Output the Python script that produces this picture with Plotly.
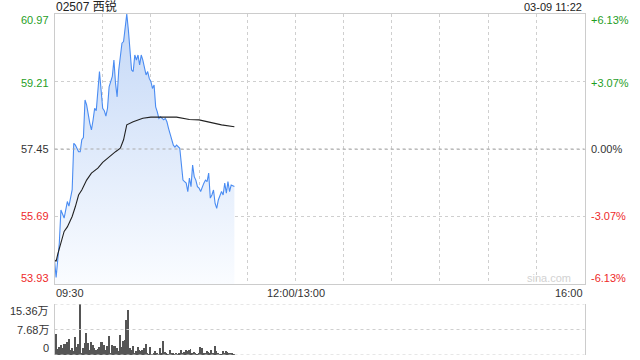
import plotly.graph_objects as go

# ---------------- data ----------------
title_text = "02507 西锐"
stamp_text = "03-09 11:22"
prev_close = 57.45
price_top, price_bottom = 60.97, 53.93
price_labels = ["60.97", "59.21", "57.45", "55.69", "53.93"]
pct_labels = ["+6.13%", "+3.07%", "0.00%", "-3.07%", "-6.13%"]
time_labels = ["09:30", "12:00/13:00", "16:00"]
vol_labels = ["15.36万", "7.68万", "0"]
vol_max = 15.36

# minutes after 09:30 (trading minutes, lunch removed)
price_minute = [0, 1, 3, 4, 6, 7, 8, 9, 10, 11, 12, 13, 15, 16, 17, 18, 19, 20, 22, 23,
                24, 25, 26, 27, 28, 29, 30, 31, 32, 33, 34, 36, 37, 38, 39, 40, 42, 43, 44, 45,
                46, 47, 48, 49, 50, 51, 52, 53, 54, 55, 56, 57, 58, 59, 60, 61, 62, 63, 64, 65,
                66, 67, 68, 69, 70, 71, 72, 73, 74, 75, 76, 78, 79, 80, 81, 82, 83, 84, 85, 86,
                87, 88, 89, 90, 91, 92, 93, 94, 95, 96, 97, 98, 99, 100, 101, 102, 103, 104, 105,
                106, 107, 108, 109, 110, 112]
price_value = [54.56, 54.10, 55.00, 55.86, 55.65, 55.86, 56.08, 55.96, 56.21, 56.39, 57.60, 57.55,
               57.38, 57.38, 57.69, 57.75, 58.73, 58.60, 58.12, 57.95,
               58.20, 58.51, 58.45, 58.99, 59.47, 58.99, 58.51, 58.45, 58.31, 58.51, 59.07, 59.34,
               59.77, 59.16, 58.81, 59.51, 60.21, 60.25, 60.64, 60.97,
               60.55, 60.03, 59.51, 59.47, 59.90, 59.77, 59.90, 59.64, 59.90, 59.77, 59.60, 59.38,
               59.47, 59.29, 59.21, 59.03, 59.12, 58.55, 58.42, 58.25,
               58.29, 58.25, 58.21, 58.25, 58.16, 57.99, 57.82, 57.73, 57.55, 57.50, 57.55, 57.47,
               56.99, 56.64, 56.60, 56.56, 56.34, 56.69, 56.47, 57.03,
               56.73, 56.64, 56.47, 56.43, 56.34, 56.47, 56.56, 56.64, 56.60, 56.82, 56.17, 56.25,
               56.38, 56.03, 55.90, 56.12, 56.21, 56.34, 56.25,
               56.56, 56.30, 56.60, 56.34, 56.51, 56.47]

avg_minute = [0, 1, 2, 4, 6, 8, 11, 13, 15, 17, 20, 23, 27, 30, 34, 38, 41, 43, 45, 49,
              55, 60, 76, 84, 90, 98, 104, 112]
avg_value = [54.56, 54.52, 54.70, 55.00, 55.30, 55.42, 55.69, 55.95, 56.25, 56.38, 56.64, 56.82,
             56.95, 57.10, 57.25, 57.38, 57.47, 57.69, 58.08, 58.16,
             58.25, 58.28, 58.28, 58.22, 58.21, 58.14, 58.08, 58.03]

# volume per minute (万)
vol_value = [6.2, 1.9, 2.4, 3.0, 2.0, 3.2, 3.4, 3.9, 4.9, 1.4, 2.2, 1.1, 5.3, 2.4, 3.4, 15.3,
             0.7, 2.2, 3.7, 6.7, 3.7, 1.4, 4.0, 3.0, 2.0, 1.4, 1.9, 2.4, 4.0, 4.0, 2.9, 1.5,
             2.7, 5.7, 0.7, 3.0, 2.7, 2.6, 2.0, 1.2, 6.1, 2.4, 4.1, 4.4, 10.5, 13.5, 2.2, 1.4,
             2.7, 0.7, 1.2, 2.5, 1.4, 1.2, 1.6, 2.0, 3.4,
             0.4, 0.3, 2.5, 0.3, 0.6, 1.2, 0.4, 0.3, 2.2, 0.5, 4.3, 1.0, 0.6, 0.3, 1.6, 0.4,
             0.4, 0.3, 0.4, 0.2, 0.6, 1.5, 0.4, 0.8, 1.6, 1.2, 1.5, 1.9, 0.7, 0.8, 0.4, 0.3,
             0.4, 2.4, 2.2, 0.4, 0.7, 1.2, 1.0, 0.7, 1.5, 0.4, 2.7, 1.2, 0.4, 0.3, 0.2, 1.2,
             0.7, 1.2, 1.0, 0.7, 0.6, 0.4, 0.2]
vol_minute = list(range(len(vol_value)))

# ---------------- style ----------------
W, H = 640, 360
L, R = 54.5, 584.5
P_TOP, P_BOT = 14, 284
V_TOP, V_BOT = 304, 355
GREEN, RED, GRAY = "#1f9e1f", "#ee2a2a", "#333333"
FONT = "Liberation Sans, Arial, Noto Sans CJK SC, sans-serif"


def px(x):
    return x / W


def py(y):
    return 1 - y / H


fig = go.Figure()

fig.add_trace(go.Scatter(
    x=price_minute, y=price_value, mode="lines",
    line=dict(color="#4a8cf2", width=1.1),
    fill="tozeroy",
    fillgradient=dict(type="vertical", start=price_bottom, stop=price_top,
                      colorscale=[[0, "rgba(250,252,255,1)"], [1, "rgba(196,216,247,1)"]]),
    xaxis="x", yaxis="y", hoverinfo="skip", showlegend=False))
fig.add_trace(go.Scatter(
    x=avg_minute, y=avg_value, mode="lines",
    line=dict(color="#222222", width=1.1),
    xaxis="x", yaxis="y", hoverinfo="skip", showlegend=False))
fig.add_trace(go.Bar(
    x=vol_minute, y=vol_value, width=0.62,
    marker=dict(color="#555555", line=dict(width=0)),
    xaxis="x2", yaxis="y2", hoverinfo="skip", showlegend=False))

xdom = [px(L), px(R)]
fig.update_layout(
    width=W, height=H, margin=dict(l=0, r=0, t=0, b=0),
    paper_bgcolor="white", plot_bgcolor="white",
    font=dict(family=FONT, size=11, color=GRAY),
    xaxis=dict(domain=xdom, range=[0, 330], anchor="y", showticklabels=False, ticks="",
               showgrid=True, tick0=0, dtick=30, gridcolor="#cfcfcf", griddash="dot", gridwidth=1,
               showline=True, mirror=True, linecolor="#cccccc", linewidth=1, zeroline=False),
    yaxis=dict(domain=[py(P_BOT), py(P_TOP)], range=[price_bottom, price_top], anchor="x",
               showticklabels=False, ticks="", showgrid=True,
               tickmode="array", tickvals=[float(v) for v in price_labels[1:4]],
               gridcolor="#cfcfcf", griddash="dot", gridwidth=1,
               showline=True, mirror=True, linecolor="#cccccc", linewidth=1, zeroline=False),
    xaxis2=dict(domain=xdom, range=[-0.5, 330], anchor="y2", showticklabels=False, ticks="",
                showgrid=False, showline=False, zeroline=False),
    yaxis2=dict(domain=[py(V_BOT), py(V_TOP)], range=[0, vol_max], anchor="x2",
                showticklabels=False, ticks="", showgrid=False, zeroline=False,
                showline=True, mirror=True, linecolor="#cccccc", linewidth=1),
    bargap=0,
)

# darker dotted line at previous close
fig.add_shape(type="line", xref="x domain", yref="y", x0=0, x1=1, y0=prev_close, y1=prev_close,
              line=dict(color="#aaaaaa", width=1, dash="dot"))
# volume panel dotted guide lines
for v in [0, vol_max / 2, vol_max]:
    fig.add_shape(type="line", xref="x2 domain", yref="y2", x0=0, x1=1, y0=v, y1=v,
                  line=dict(color="#cfcfcf", width=1.2, dash="dot"))

ann = []
price_y = [20, 83, 149, 216, 278]
colors = [GREEN, GREEN, GRAY, RED, RED]
for lab, yy, c in zip(price_labels, price_y, colors):
    ann.append(dict(text=lab, x=px(51), y=py(yy), xanchor="right", yanchor="middle",
                    font=dict(color=c, size=11)))
for lab, yy, c in zip(pct_labels, price_y, colors):
    ann.append(dict(text=lab, x=px(589), y=py(yy), xanchor="left", yanchor="middle",
                    font=dict(color=c, size=11)))
ann.append(dict(text=time_labels[0], x=px(54), y=py(293), xanchor="left", yanchor="middle"))
ann.append(dict(text=time_labels[1], x=px(296), y=py(293), xanchor="center", yanchor="middle"))
ann.append(dict(text=time_labels[2], x=px(585), y=py(293), xanchor="right", yanchor="middle"))
for lab, yy in zip(vol_labels, [311, 330, 348]):
    ann.append(dict(text=lab, x=px(51), y=py(yy), xanchor="right", yanchor="middle"))
ann.append(dict(text=title_text, x=px(54), y=py(7), xanchor="left", yanchor="middle",
                font=dict(size=12, color="#222222")))
ann.append(dict(text=stamp_text, x=px(584), y=py(7), xanchor="right", yanchor="middle",
                font=dict(size=11, color="#222222")))
ann.append(dict(text="sina.com", x=px(573), y=py(278), xanchor="right", yanchor="middle",
                font=dict(size=11, color="#d2d2d2")))
for a in ann:
    a.update(xref="paper", yref="paper", showarrow=False)
fig.update_layout(annotations=ann)

fig.write_html("out.html")
